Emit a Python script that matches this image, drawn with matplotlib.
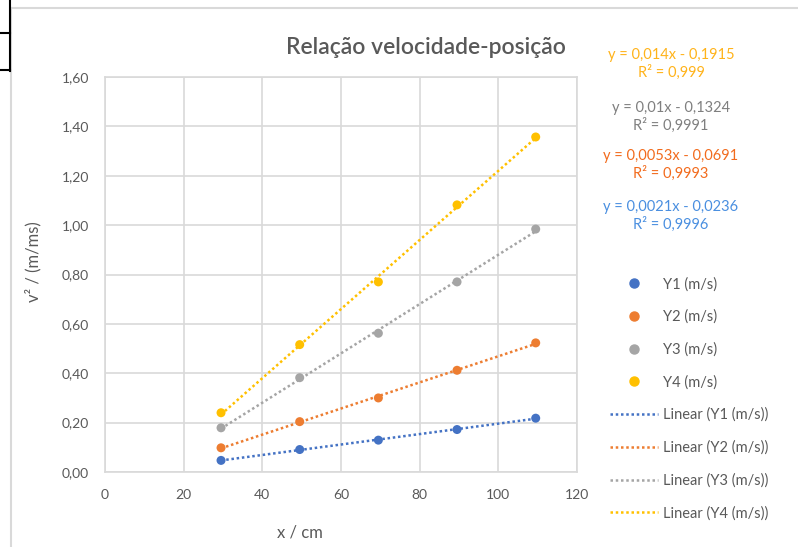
import numpy as np
import matplotlib
matplotlib.use("Agg")
import matplotlib.pyplot as plt
from matplotlib.lines import Line2D

plt.rcParams['font.family'] = ['Lato', 'DejaVu Sans']

x_cm = [29.5, 49.5, 69.5, 89.5, 109.5]
y1 = [0.047, 0.091, 0.129, 0.172, 0.218]
y2 = [0.098, 0.204, 0.300, 0.412, 0.523]
y3 = [0.179, 0.382, 0.562, 0.770, 0.984]
y4 = [0.240, 0.516, 0.770, 1.082, 1.357]
series_names = ["Y1 (m/s)", "Y2 (m/s)", "Y3 (m/s)", "Y4 (m/s)"]
equations = ["y = 0,0021x - 0,0236\nR² = 0,9996",
             "y = 0,0053x - 0,0691\nR² = 0,9993",
             "y = 0,01x - 0,1324\nR² = 0,9991",
             "y = 0,014x - 0,1915\nR² = 0,999"]
x_ticks = [0, 20, 40, 60, 80, 100, 120]
y_ticks = [0.0, 0.2, 0.4, 0.6, 0.8, 1.0, 1.2, 1.4, 1.6]

colors = ["#4472C4", "#ED7D31", "#A5A5A5", "#FFC000"]
eq_colors = ["#4A8FE0", "#F26B1D", "#7F7F7F", "#FFB31A"]
text_col = "#595959"
grid_col = "#D9D9D9"

W, H = 798, 547
fig = plt.figure(figsize=(W / 100, H / 100), dpi=100)
ax = fig.add_axes([105 / W, 1 - 472 / H, (577 - 105) / W, (472 - 77) / H])

ys = [y1, y2, y3, y4]
handles_pts = []
handles_lin = []
xa = np.array(x_cm)
dots = (0, (1, 1.1))
for ys_i, c, name in zip(ys, colors, series_names):
    ax.scatter(x_cm, ys_i, s=42, color=c, zorder=4, edgecolors='none')
    k, b = np.polyfit(xa, np.array(ys_i), 1)
    xx = np.array([xa.min(), xa.max()])
    ax.plot(xx, k * xx + b, linestyle=dots, color=c, lw=1.8, zorder=3)
    handles_pts.append(Line2D([], [], marker='o', color=c, linestyle='none', markersize=6.5, label=name))
    handles_lin.append(Line2D([], [], color=c, linestyle=dots, lw=1.8, label=f"Linear ({name})"))

ax.set_xlim(0, 120)
ax.set_ylim(0, 1.6)
ax.set_xticks(x_ticks)
ax.set_yticks(y_ticks)
ax.set_xticklabels([str(t) for t in x_ticks])
ax.set_yticklabels([f"{t:.2f}".replace('.', ',') for t in y_ticks])
ax.tick_params(length=0, labelsize=10, colors=text_col)
ax.tick_params(axis='x', pad=12)
ax.tick_params(axis='y', pad=11.5)
ax.grid(True, color=grid_col, lw=1.2)
ax.set_axisbelow(True)
for s in ax.spines.values():
    s.set_color(grid_col)
    s.set_linewidth(1.2)

ax.set_xlabel("x / cm", fontsize=12, color=text_col)
ax.set_ylabel("v² / (m/ms)", fontsize=12, color=text_col)
ax.xaxis.set_label_coords((300 - 105) / (577 - 105), -(533 - 472) / (472 - 77))
ax.yaxis.set_label_coords(-(105 - 33) / (577 - 105), (472 - 262) / (472 - 77))
ax.xaxis.label.set_va('center')
ax.yaxis.label.set_va('center')

fig.text(426 / W, 1 - 48 / H, "Relação velocidade-posição", fontsize=16.5,
         color=text_col, ha='center', va='center', fontweight='semibold')

eq_y = [216, 165, 117, 64]
for txt, c, yy in zip(equations, eq_colors, eq_y):
    fig.text(671 / W, 1 - yy / H, txt, fontsize=10.5, color=c, ha='center', va='center',
             linespacing=1.3)

fig.legend(handles=handles_pts + handles_lin, loc='upper left',
           bbox_to_anchor=(610 / W, 1 - 277 / H), frameon=False, fontsize=10.5,
           labelcolor=text_col, handlelength=3.3, handletextpad=0.35,
           labelspacing=1.26, borderaxespad=0, borderpad=0)

# chart border and spreadsheet cell lines
fig.add_artist(Line2D([11 / W, 1], [1 - 8 / H, 1 - 8 / H], color="#D9D9D9", lw=1.5))
fig.add_artist(Line2D([11 / W, 11 / W], [0, 1 - 8 / H], color="#D9D9D9", lw=1.5))
fig.add_artist(Line2D([10 / W, 10 / W], [1, 1 - 71 / H], color="black", lw=1.5))
fig.add_artist(Line2D([0, 10 / W], [1 - 33 / H, 1 - 33 / H], color="black", lw=1.5))
fig.add_artist(Line2D([0, 10 / W], [1 - 70 / H, 1 - 70 / H], color="black", lw=1.5))

fig.savefig("out.png", dpi=100)
